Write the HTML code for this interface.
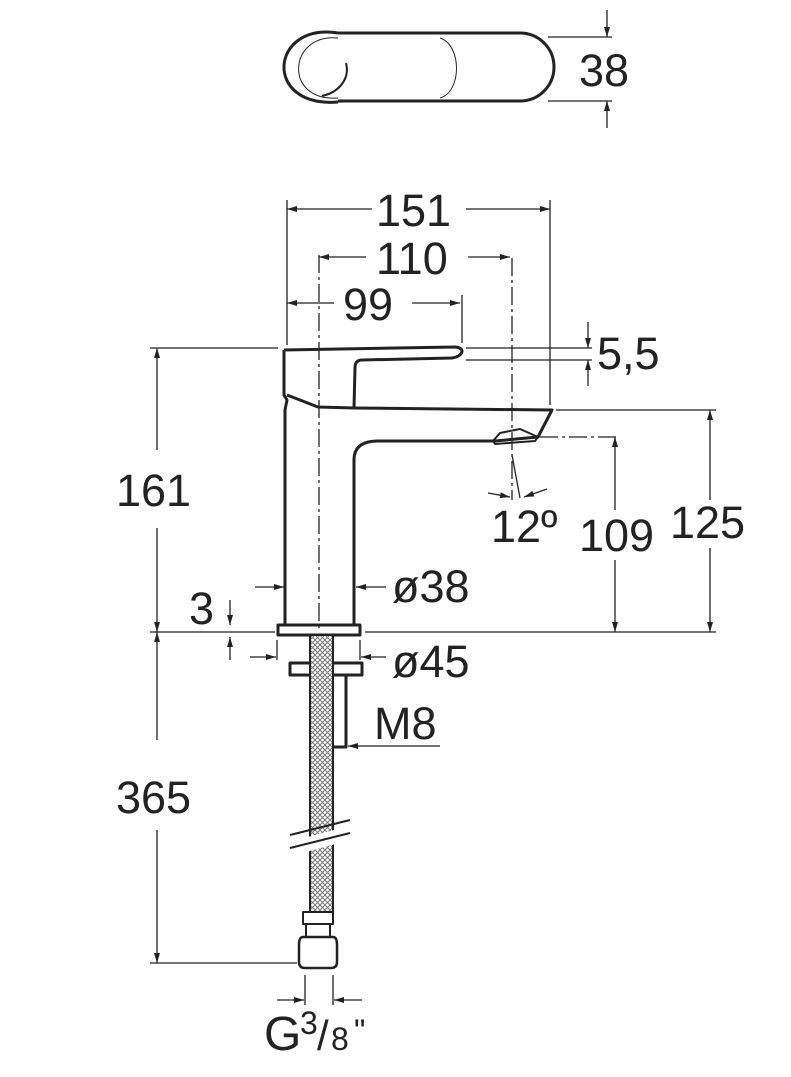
<!DOCTYPE html>
<html><head><meta charset="utf-8"><style>
html,body{margin:0;padding:0;background:#fff}
svg{display:block}
text{font-family:"Liberation Sans",sans-serif;fill:#222;font-size:45px}
</style></head><body>
<svg width="791" height="1077" viewBox="0 0 791 1077" xmlns="http://www.w3.org/2000/svg">
<defs>
<marker id="a" viewBox="0 0 10 6" refX="10" refY="3" markerWidth="10" markerHeight="6" orient="auto" markerUnits="userSpaceOnUse"><path d="M0,0 L10,3 L0,6 Z" fill="#222"/></marker>
<pattern id="h" width="5" height="5" patternUnits="userSpaceOnUse"><rect width="5" height="5" fill="#fff"/><path d="M0,0 L5,5 M5,0 L0,5" stroke="#777" stroke-width="1"/></pattern>
</defs>
<g fill="none" stroke="#222" stroke-width="1.3">
<!-- top view -->
<path d="M338,33 C270,22 262,108 338,102" stroke-width="3"/>
<path d="M338,33 L520,33 A34,34 0 0 1 520,101 L338,101" stroke-width="3"/>
<path d="M338,38 C288,33 283,102 338,98" stroke-width="1"/>
<path d="M440,38 C462,45 462,92 440,98" stroke-width="1"/>
<path d="M346,63 C350,78 340,92 322,96" stroke-width="2"/>
<line x1="548" y1="37" x2="612" y2="37"/><line x1="548" y1="101" x2="612" y2="101"/>
<line x1="607" y1="10" x2="607" y2="37" marker-end="url(#a)"/>
<line x1="607" y1="128" x2="607" y2="101" marker-end="url(#a)"/>

<!-- faucet outline -->
<g stroke-width="3" stroke-linejoin="round">
<path d="M284,350 L455,347 C467,348 462,357 452,358 L362,360 Q355,360 355,368 L354,408"/>
<path d="M284,350 L284,395 L287,400 L285,410 L285,625"/>
<path d="M287,395 L318,407 L354,408"/>
<path d="M354,408 L552,410 L538,437 L495,441 L378,441 Q354,441 354,460 L354,625"/>
<path d="M493,441 L500,433 L520,429 L538,437 L535,441 L495,444 Z" stroke-width="2"/>
<rect x="278" y="625" width="82" height="10"/>
<rect x="290" y="663" width="72" height="12"/>
<path d="M334,675 L346,675 L346,747 L334,747"/>
<path d="M303,937 L333,937 Q337,937 337,945 L337,962 Q337,968 331,968 L305,968 Q299,968 299,962 L299,945 Q299,937 303,937 Z" stroke-width="2.5"/>
<rect x="306" y="924" width="24" height="13" stroke-width="2"/>
<rect x="303" y="912" width="30" height="12" stroke-width="2"/>
</g>
<rect x="310" y="635" width="23" height="277" fill="url(#h)" stroke="#222" stroke-width="2"/>
<rect x="302" y="834" width="40" height="14" fill="#fff" stroke="none" transform="rotate(-15 320 841)"/>
<line x1="290" y1="835" x2="350" y2="820" stroke-width="2"/>
<line x1="290" y1="848" x2="350" y2="833" stroke-width="2"/>

<!-- center lines -->
<line x1="319" y1="255" x2="319" y2="632" stroke-dasharray="18,4,3,4"/>
<line x1="512" y1="258" x2="512" y2="500" stroke-dasharray="18,4,3,4"/>
<line x1="540" y1="437" x2="617" y2="437" stroke-dasharray="18,4,3,4"/>
<line x1="512" y1="455" x2="520" y2="498"/>

<!-- extension lines -->
<line x1="287" y1="200" x2="287" y2="345"/>
<line x1="550" y1="200" x2="550" y2="405"/>
<line x1="462" y1="295" x2="462" y2="343"/>
<line x1="466" y1="348" x2="592" y2="348"/>
<line x1="466" y1="360" x2="592" y2="360"/>
<line x1="150" y1="348" x2="278" y2="348"/>
<line x1="556" y1="410" x2="716" y2="410"/>
<line x1="150" y1="632" x2="275" y2="632"/>
<line x1="365" y1="632" x2="716" y2="632"/>
<line x1="150" y1="963" x2="297" y2="963"/>
<line x1="277" y1="640" x2="277" y2="660"/><line x1="360" y1="640" x2="360" y2="660"/>
<line x1="305" y1="975" x2="305" y2="1005"/><line x1="333" y1="975" x2="333" y2="1005"/>

<!-- dims -->
<line x1="372" y1="209" x2="287" y2="209" marker-end="url(#a)"/>
<line x1="466" y1="209" x2="550" y2="209" marker-end="url(#a)"/>
<line x1="366" y1="257" x2="319" y2="257" marker-end="url(#a)"/>
<line x1="468" y1="257" x2="510" y2="257" marker-end="url(#a)"/>
<line x1="334" y1="303" x2="287" y2="303" marker-end="url(#a)"/>
<line x1="412" y1="303" x2="460" y2="303" marker-end="url(#a)"/>
<line x1="588" y1="322" x2="588" y2="348" marker-end="url(#a)"/>
<line x1="588" y1="386" x2="588" y2="360" marker-end="url(#a)"/>
<line x1="157" y1="450" x2="157" y2="348" marker-end="url(#a)"/>
<line x1="157" y1="528" x2="157" y2="632" marker-end="url(#a)"/>
<line x1="710" y1="500" x2="710" y2="410" marker-end="url(#a)"/>
<line x1="710" y1="548" x2="710" y2="632" marker-end="url(#a)"/>
<line x1="615" y1="510" x2="615" y2="437" marker-end="url(#a)"/>
<line x1="615" y1="560" x2="615" y2="632" marker-end="url(#a)"/>
<line x1="157" y1="740" x2="157" y2="632" marker-end="url(#a)"/>
<line x1="157" y1="830" x2="157" y2="963" marker-end="url(#a)"/>
<line x1="230" y1="600" x2="230" y2="625" marker-end="url(#a)"/>
<line x1="230" y1="660" x2="230" y2="637" marker-end="url(#a)"/>
<line x1="255" y1="587" x2="284" y2="587" marker-end="url(#a)"/>
<line x1="386" y1="587" x2="356" y2="587" marker-end="url(#a)"/>
<line x1="250" y1="657" x2="276" y2="657" marker-end="url(#a)"/>
<line x1="386" y1="657" x2="361" y2="657" marker-end="url(#a)"/>
<line x1="440" y1="746" x2="348" y2="746" marker-end="url(#a)"/>
<line x1="277" y1="1000" x2="304" y2="1000" marker-end="url(#a)"/>
<line x1="362" y1="1000" x2="334" y2="1000" marker-end="url(#a)"/>
<line x1="488" y1="493" x2="510" y2="497" marker-end="url(#a)"/>
<line x1="547" y1="489" x2="524" y2="497" marker-end="url(#a)"/>
</g>
<text x="579" y="86">38</text>
<text x="376" y="226">151</text>
<text x="376" y="274">110</text>
<text x="343" y="320">99</text>
<text x="597" y="369">5,5</text>
<text x="116" y="506">161</text>
<text x="670" y="538">125</text>
<text x="579" y="551">109</text>
<text x="491" y="542">12º</text>
<text x="189" y="624">3</text>
<text x="392" y="602">ø38</text>
<text x="392" y="677">ø45</text>
<text x="374" y="739">M8</text>
<text x="116" y="813">365</text>
<text x="264" y="1050" style="font-size:48px">G</text>
<text x="300" y="1034" style="font-size:32px">3</text>
<text x="317" y="1050" style="font-size:42px">/</text>
<text x="331" y="1050" style="font-size:32px">8</text>
<text x="354" y="1042" style="font-size:32px">"</text>
</svg>
</body></html>
